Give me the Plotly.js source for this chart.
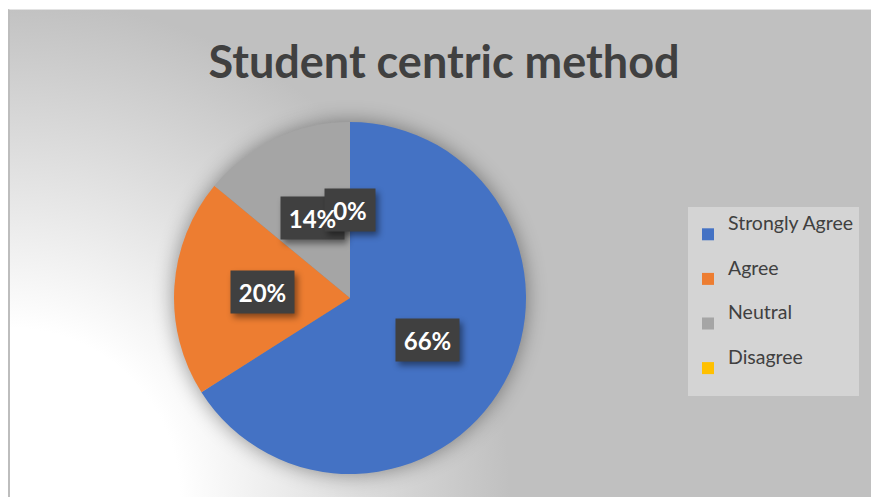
<!DOCTYPE html>
<html>
<head>
<meta charset="utf-8">
<script src="https://cdn.plot.ly/plotly-3.0.1.min.js"></script>
<style>
  html, body { margin: 0; padding: 0; background: #ffffff; }
  #wrap { position: relative; width: 871px; height: 497px; overflow: hidden; }
  #bg {
    position: absolute; left: 8px; top: 9px; width: 861px; height: 488px;
    border-left: 2px solid #bdbdbd; border-top: 1px solid #e3e3e3;
    background: radial-gradient(circle at 0px 488px, #ffffff 0px, #ffffff 170px, #c0c0c0 500px);
  }
  #chart { position: absolute; left: 0; top: 0; width: 871px; height: 497px; }
  #chart .pielayer .trace { filter: drop-shadow(0px 0px 10px rgba(0,0,0,0.40)); }
  #chart .labelbox { filter: drop-shadow(3px 4px 3px rgba(0,0,0,0.45)); }
</style>
</head>
<body>
<div id="wrap">
  <div id="bg"></div>
  <div id="chart"></div>
</div>
<script>
// ---- data ----
const categories = ["Strongly Agree", "Agree", "Neutral", "Disagree"];
const values = [66, 20, 14, 0];
const pctLabels = ["66%", "20%", "14%", "0%"];
const colors = ["#4472C4", "#ED7D31", "#A5A5A5", "#FFC000"];
const chartTitle = "Student centric method";

// ---- layout constants (pixels) ----
const W = 871, H = 497;
const CX = 350, CY = 298, R = 176;
const domX = [(CX - R) / W, (CX + R) / W];
const domY = [(H - CY - R) / H, (H - CY + R) / H];
const FONT = "Lato, 'Open Sans', sans-serif";

const pie = {
  type: "pie",
  labels: categories.map(c => '<span style="font-size:19.5px">' + c + '</span><br> '),
  values: values,
  sort: false,
  direction: "clockwise",
  rotation: 0,
  textinfo: "none",
  marker: { colors: colors, line: { width: 0 } },
  domain: { x: domX, y: domY },
  hoverinfo: "label+percent"
};

// label boxes at half radius along each slice's mid-angle
const total = values.reduce((a, b) => a + b, 0);
const boxes = [], texts = [];
let acc = 0;
values.forEach((v, i) => {
  const mid = (acc + v / 2) / total * 2 * Math.PI;
  acc += v;
  const px = CX + 0.5 * R * Math.sin(mid);
  const py = CY - 0.5 * R * Math.cos(mid);
  const x = px / W, y = 1 - py / H;
  const w = pctLabels[i].length > 2 ? 63 : 50;
  boxes.push({
    xref: "paper", yref: "paper", x: x, y: y, xanchor: "center", yanchor: "middle",
    showarrow: false, text: " ",
    width: w, height: 42, borderpad: 0, bgcolor: "#404040"
  });
  texts.push({
    xref: "paper", yref: "paper", x: x, y: y, xanchor: "center", yanchor: "middle",
    showarrow: false, text: "<b>" + pctLabels[i] + "</b>",
    width: w + 10, height: 42, borderpad: 0,
    font: { family: FONT, size: 24, color: "#ffffff" }
  });
});

const layout = {
  width: W, height: H,
  margin: { l: 0, r: 0, t: 0, b: 0 },
  paper_bgcolor: "rgba(0,0,0,0)",
  plot_bgcolor: "rgba(0,0,0,0)",
  title: {
    text: "<b>" + chartTitle + "</b>",
    x: 444 / W, xanchor: "center", xref: "paper",
    y: 1 - 62 / H, yanchor: "middle", yref: "container",
    font: { family: FONT, size: 45, color: "#404040" }
  },
  showlegend: true,
  legend: {
    x: 688 / W, xanchor: "left", y: 1 - 207 / H, yanchor: "top",
    bgcolor: "#d4d4d4", borderwidth: 0,
    itemwidth: 30,
    font: { family: FONT, size: 16, color: "#404040" },
    traceorder: "normal"
  },
  annotations: boxes.concat(texts)
};

Plotly.newPlot("chart", [pie], layout, { displayModeBar: false, staticPlot: true }).then(gd => {
  gd.querySelectorAll(".infolayer .annotation").forEach(g => {
    const idx = +g.getAttribute("data-index");
    if (idx < boxes.length) g.classList.add("labelbox");
  });
});
</script>
</body>
</html>
